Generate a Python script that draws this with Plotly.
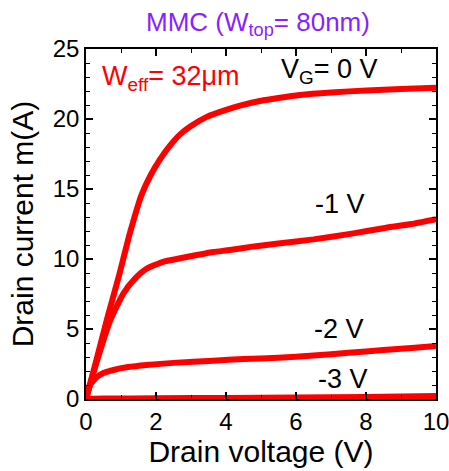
import plotly.graph_objects as go

# Drain voltage (V) / drain current (mA) for each gate voltage
vd_0 = [0, 0.3, 0.6, 0.92, 1.26, 1.59, 1.85, 2.11, 2.4, 2.69, 3.0, 3.45, 4.0, 4.4, 5.0, 5.49, 6.11, 7.0, 8.02, 9.0, 10.0]
id_0 = [0, 2.8, 5.7, 8.6, 11.9, 14.6, 16.0, 17.1, 18.1, 18.9, 19.5, 20.15, 20.65, 20.95, 21.3, 21.5, 21.72, 21.9, 22.04, 22.15, 22.24]

vd_m1 = [0, 0.3, 0.69, 1.07, 1.4, 1.73, 2.2, 2.69, 3.2, 3.64, 4.11, 4.8, 5.49, 6.5, 7.64, 8.5, 9.3, 10.0]
id_m1 = [0, 2.6, 5.6, 7.55, 8.6, 9.3, 9.8, 10.05, 10.3, 10.5, 10.64, 10.9, 11.1, 11.4, 11.83, 12.2, 12.5, 12.85]

vd_m2 = [0, 0.11, 0.3, 0.5, 0.78, 1.2, 1.73, 2.5, 3.64, 4.5, 5.49, 6.5, 7.5, 8.5, 9.3, 10.0]
id_m2 = [0, 1.0, 1.55, 1.85, 2.07, 2.28, 2.43, 2.58, 2.74, 2.85, 2.95, 3.1, 3.3, 3.5, 3.65, 3.79]

vd_m3 = [0, 0.5, 2.0, 4.0, 6.0, 8.0, 9.0, 10.0]
id_m3 = [0, 0.03, 0.05, 0.08, 0.1, 0.14, 0.17, 0.22]

x_ticks = [0, 2, 4, 6, 8, 10]
y_ticks = [0, 5, 10, 15, 20, 25]

FONT = "Arial, Liberation Sans, Helvetica, sans-serif"
RED = "#FF0000"

fig = go.Figure()
for vx, iy in [(vd_0, id_0), (vd_m1, id_m1), (vd_m2, id_m2), (vd_m3, id_m3)]:
    fig.add_trace(go.Scatter(x=vx, y=iy, mode="lines",
                             line=dict(color=RED, width=6, shape="spline", smoothing=0.5),
                             showlegend=False, hoverinfo="skip"))

axis_common = dict(
    showline=True, linecolor="black", linewidth=1.5, mirror="ticks",
    ticks="inside", ticklen=7, tickwidth=1.5, tickcolor="black",
    showgrid=False, zeroline=False, ticklabeloverflow="allow", automargin=False,
    tickfont=dict(family=FONT, size=24, color="black"),
)

fig.update_xaxes(range=[0, 10], tickvals=x_ticks,
                 minor=dict(dtick=1, ticks="inside", ticklen=4, tickwidth=1.2, tickcolor="black"),
                 title=dict(text="Drain voltage (V)", font=dict(family=FONT, size=30, color="black"), standoff=2),
                 **axis_common)
fig.update_yaxes(range=[0, 25], tickvals=y_ticks,
                 minor=dict(dtick=1, ticks="inside", ticklen=4, tickwidth=1.2, tickcolor="black"),
                 title=dict(text="Drain current m(A)", font=dict(family=FONT, size=30, color="black"), standoff=10),
                 **axis_common)

ann = [
    dict(x=0.4, y=22.9, text="W<sub>eff</sub>= 32μm", xanchor="left", yanchor="middle",
         font=dict(family=FONT, size=27, color=RED)),
    dict(x=5.5, y=23.4, text="V<sub>G</sub>= 0 V", xanchor="left", yanchor="middle",
         font=dict(family=FONT, size=27, color="black")),
    dict(x=7.26, y=13.9, text="-1 V", xanchor="center", yanchor="middle",
         font=dict(family=FONT, size=27, color="black")),
    dict(x=7.23, y=5.0, text="-2 V", xanchor="center", yanchor="middle",
         font=dict(family=FONT, size=27, color="black")),
    dict(x=7.33, y=1.4, text="-3 V", xanchor="center", yanchor="middle",
         font=dict(family=FONT, size=27, color="black")),
]
for a in ann:
    fig.add_annotation(showarrow=False, xref="x", yref="y", **a)

fig.add_annotation(text="MMC (W<sub>top</sub>= 80nm)", xref="paper", yref="paper",
                   x=0.49, y=1.0, yshift=26, xanchor="center", yanchor="middle", showarrow=False,
                   font=dict(family=FONT, size=26, color="#8C1EFF"))

fig.update_layout(width=449, height=471,
                  margin=dict(l=86, r=13, t=49, b=72, autoexpand=False),
                  paper_bgcolor="white", plot_bgcolor="white")

fig.write_html("out.html", config={"displayModeBar": False},
               post_script="document.body.style.margin='0';document.body.style.overflow='hidden';")
